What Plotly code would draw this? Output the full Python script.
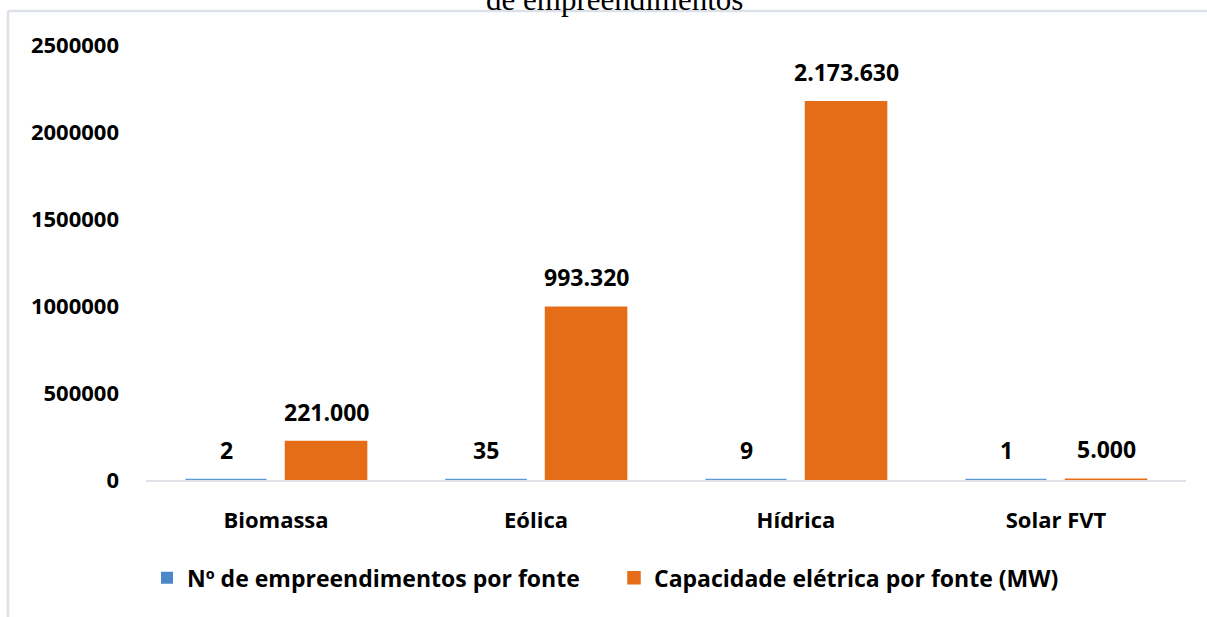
import plotly.graph_objects as go

categories = ["Biomassa", "Eólica", "Hídrica", "Solar FVT"]
n_empreendimentos = [2, 35, 9, 1]
capacidade_mw = [221000, 993320, 2173630, 5000]
series_names = ["Nº de empreendimentos por fonte", "Capacidade elétrica por fonte (MW)"]
title_text = "de empreendimentos"

FONT = "Open Sans"
BLUE = "#4A86C8"
BLUE_LINE = "#5B9BD5"
ORANGE = "#E56D18"

BARGAP = 0.23
BARGROUPGAP = 0.19

fig = go.Figure()
fig.add_trace(go.Bar(
    x=categories, y=n_empreendimentos, name=series_names[0],
    marker=dict(color=BLUE, line=dict(width=0)),
))
fig.add_trace(go.Bar(
    x=categories, y=capacidade_mw, name=series_names[1],
    marker=dict(color=ORANGE, line=dict(color=ORANGE, width=1.5)),
))

def fmt(v):
    return f"{v:,}".replace(",", ".")

annotations = []
for vals, shift in ((n_empreendimentos, -50), (capacidade_mw, 50)):
    for c, v in zip(categories, vals):
        annotations.append(dict(
            x=c, y=v, xref="x", yref="y", text=fmt(v), showarrow=False,
            xshift=shift, yshift=30, yanchor="middle",
            font=dict(family=FONT, size=23, color="#000000", weight="bold"),
        ))

annotations.append(dict(
    x=0.45, y=1, xref="paper", yref="paper", text=title_text, showarrow=False,
    yanchor="middle", yshift=46,
    font=dict(family="Liberation Serif", size=31, color="#000000", weight="normal"),
))

# thin outlines so near-zero blue bars stay visible (derived from bar gaps)
slot = (1 - BARGAP) / 2
half_gap = slot * BARGROUPGAP / 2
shapes = [
    dict(type="line", xref="paper", yref="paper", x0=-0.1327, x1=1.03, y0=1.0782, y1=1.0782,
         line=dict(color="#DCE1E9", width=2.5)),
    dict(type="line", xref="paper", yref="paper", x0=-0.1327, x1=-0.1327, y0=1.0782, y1=-0.33,
         line=dict(color="#DCE1E9", width=2.5)),
]
for c, v in zip(categories, n_empreendimentos):
    shapes.append(dict(type="line", xref="x", yref="y", x0=c, x1=c, y0=v, y1=v,
                       x0shift=-slot + half_gap, x1shift=-half_gap,
                       line=dict(color=BLUE_LINE, width=2.5), layer="above"))

fig.update_layout(
    width=1207, height=617,
    margin=dict(l=146, r=21, t=45, b=137, autoexpand=False),
    paper_bgcolor="white", plot_bgcolor="white",
    barmode="group", bargap=BARGAP, bargroupgap=BARGROUPGAP,
    font=dict(family=FONT, size=22, color="#000000", weight="bold"),
    showlegend=True,
    legend=dict(orientation="h", x=0.45, xanchor="center", y=-0.225, yanchor="middle",
                font=dict(family=FONT, size=23, color="#000000", weight="bold"),
                entrywidth=422, entrywidthmode="pixels", itemwidth=30, traceorder="normal"),
    annotations=annotations,
    shapes=shapes,
)
fig.update_xaxes(showline=True, linecolor="#DFE3E8", linewidth=1.5, showgrid=False,
                 ticks="", ticklabelstandoff=20, automargin=False, layer="below traces",
                 tickfont=dict(family=FONT, size=22, color="#000000", weight="bold"))
fig.update_yaxes(range=[0, 2500000], dtick=500000, tickformat="d", showgrid=False,
                 zeroline=False, showline=False, ticks="", ticklabelstandoff=26, automargin=False,
                 tickfont=dict(family=FONT, size=22, color="#000000", weight="bold"))

fig.write_html("out.html", config={"displayModeBar": False},
               post_script="document.body.style.margin='0';")
